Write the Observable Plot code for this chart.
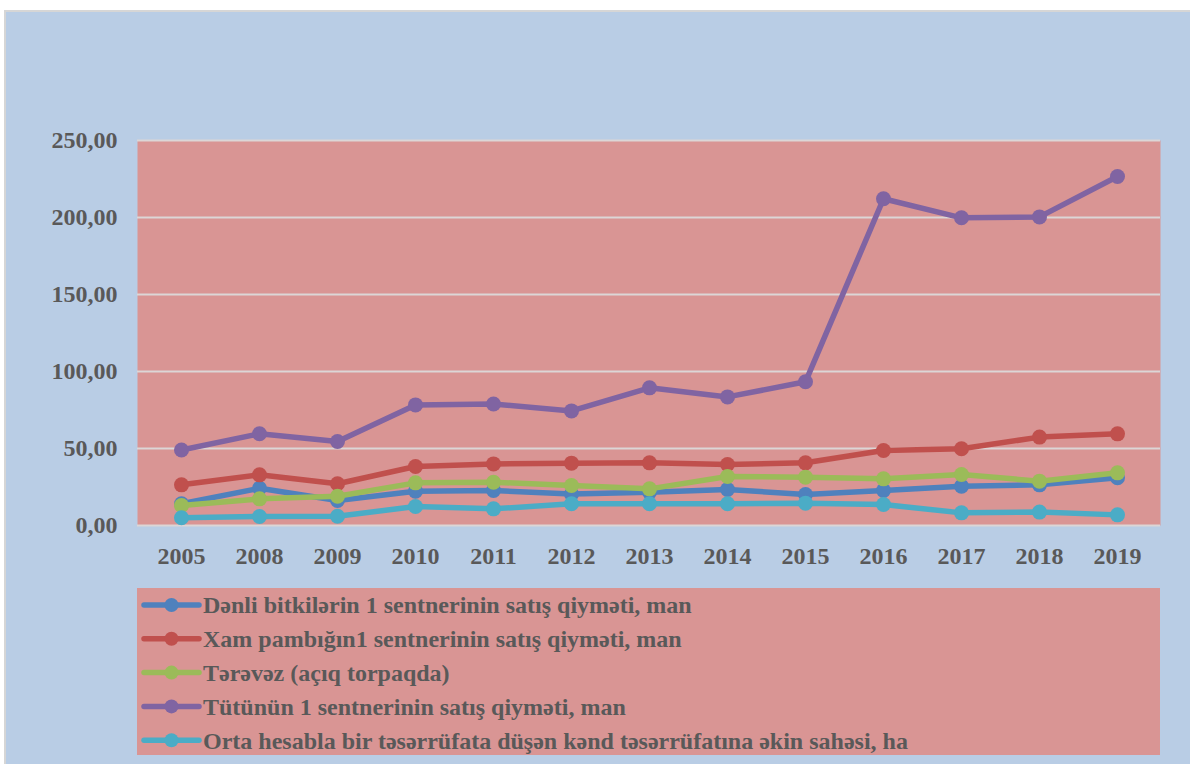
<!DOCTYPE html>
<html>
<head>
<meta charset="utf-8">
<script src="https://cdn.jsdelivr.net/npm/d3@7"></script>
<script src="https://cdn.jsdelivr.net/npm/@observablehq/plot@0.6"></script>
<style>
  html, body { margin: 0; padding: 0; background: #ffffff; }
  #page { position: relative; width: 1190px; height: 764px; overflow: hidden; }
  #bg { position: absolute; left: 4px; top: 10px; width: 1186px; height: 754px;
        background: #B9CDE5; border-left: 2px solid #D6D6D6; border-top: 2px solid #D6D6D6; box-sizing: border-box; }
  #chart { position: absolute; left: 0; top: 0; }
  #legend { position: absolute; left: 0; top: 0; }
</style>
</head>
<body>
<div id="page">
  <div id="bg"></div>
  <div id="chart"></div>
  <div id="legend"></div>
</div>
<script>
const years = ["2005","2008","2009","2010","2011","2012","2013","2014","2015","2016","2017","2018","2019"];
const seriesNames = [
  "Dənli bitkilərin 1 sentnerinin satış qiyməti, man",
  "Xam pambığın1 sentnerinin satış qiyməti, man",
  "Tərəvəz (açıq torpaqda)",
  "Tütünün 1 sentnerinin satış qiyməti, man",
  "Orta hesabla bir təsərrüfata düşən kənd təsərrüfatına əkin sahəsi, ha"
];
const seriesColors = ["#4F81BD", "#C0504D", "#9BBB59", "#8064A2", "#4BACC6"];
const grain   = [14.1, 24.2, 16.2, 22.3, 22.7, 20.4, 21.6, 23.4, 20.1, 22.7, 25.5, 26.4, 31.0];
const cotton  = [26.4, 32.9, 27.1, 38.3, 40.0, 40.5, 40.7, 39.6, 40.7, 48.7, 49.8, 57.4, 59.5];
const veg     = [13.0, 17.3, 19.0, 27.7, 28.1, 26.0, 23.8, 31.8, 31.4, 30.3, 33.1, 28.8, 34.2];
const tobacco = [49.0, 59.6, 54.5, 78.3, 78.9, 74.4, 89.4, 83.5, 93.3, 212.2, 199.8, 200.4, 226.6];
const area    = [5.0, 5.8, 6.0, 12.3, 10.8, 14.1, 14.1, 14.1, 14.5, 13.6, 8.2, 8.7, 6.9];
const yTicks  = [0, 50, 100, 150, 200, 250];

const seriesValues = [grain, cotton, veg, tobacco, area];
const data = seriesValues.map((vals, i) =>
  years.map((y, j) => ({ year: y, value: vals[j], series: seriesNames[i] })));

const font = "Liberation Serif, Times New Roman, serif";
const textColor = "#595959";

const marks = [
  Plot.frame({ fill: "#D99594", stroke: null }),
  Plot.ruleY(yTicks, { stroke: "#DCD6D6", strokeWidth: 2, strokeOpacity: 1 }),
  Plot.axisY({ ticks: yTicks, tickSize: 0, tickPadding: 20, label: null,
    tickFormat: d => d.toFixed(2).replace(".", ","),
    fontSize: 24, fontWeight: "bold", fontFamily: font, fill: textColor }),
  Plot.axisX({ tickSize: 0, tickPadding: 21, label: null,
    fontSize: 24, fontWeight: "bold", fontFamily: font, fill: textColor })
];
data.forEach((d) => {
  marks.push(Plot.line(d, { x: "year", y: "value", stroke: "series", strokeWidth: 5.5, strokeLinejoin: "round" }));
  marks.push(Plot.dot(d, { x: "year", y: "value", fill: "series", r: 7.5, stroke: null }));
});

const chart = Plot.plot({
  width: 1190,
  height: 580,
  marginLeft: 137,
  marginRight: 30,
  marginTop: 140,
  marginBottom: 55,
  x: { type: "point", domain: years, padding: 0.5 },
  y: { domain: [0, 250] },
  color: { domain: seriesNames, range: seriesColors },
  style: { background: "transparent", color: textColor, fontFamily: font },
  marks
});
document.getElementById("chart").appendChild(chart);

// Legend
const lg = d3.select("#legend").append("svg")
  .attr("width", 1190).attr("height", 764)
  .style("display", "block");
lg.append("rect").attr("x", 137).attr("y", 588).attr("width", 1023).attr("height", 167)
  .attr("fill", "#D99594");
seriesNames.forEach((name, i) => {
  const cy = 605 + i * 33.8;
  const g = lg.append("g");
  g.append("line").attr("x1", 144).attr("x2", 199).attr("y1", cy).attr("y2", cy)
    .attr("stroke", seriesColors[i]).attr("stroke-width", 5.5).attr("stroke-linecap", "round");
  g.append("circle").attr("cx", 171.5).attr("cy", cy).attr("r", 7).attr("fill", seriesColors[i]);
  g.append("text").attr("x", 203).attr("y", cy).attr("dy", "0.35em")
    .attr("font-family", font).attr("font-weight", "bold").attr("font-size", 24)
    .attr("fill", textColor).text(name);
});
</script>
</body>
</html>
